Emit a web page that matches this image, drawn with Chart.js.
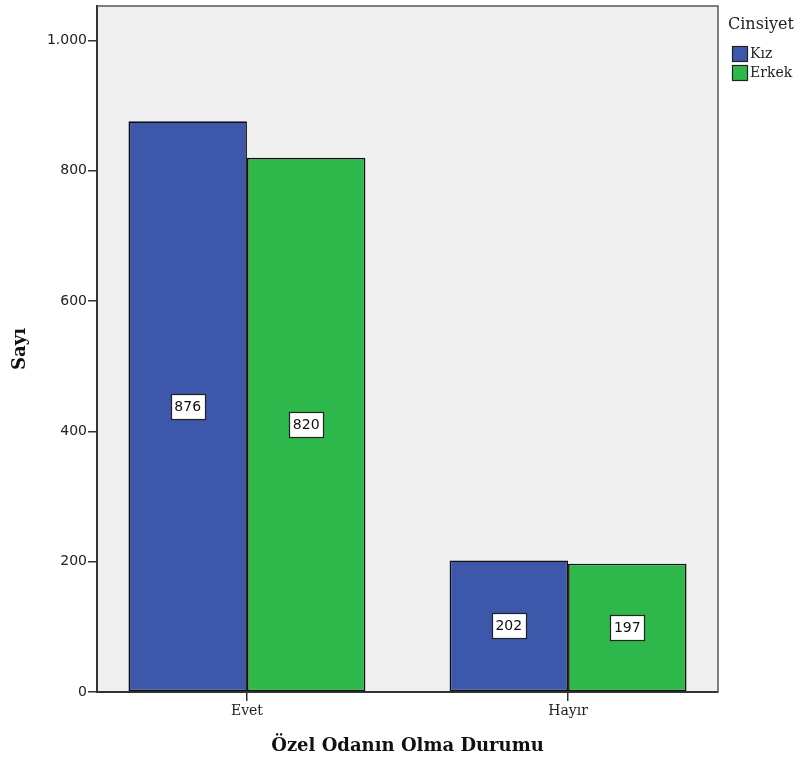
<!DOCTYPE html>
<html><head><meta charset="utf-8">
<script src="https://cdn.jsdelivr.net/npm/chart.js@4"></script>
<style>html,body{margin:0;padding:0;background:#fff}#wrap{width:800px;height:765px;position:relative}</style>
</head><body><div id="wrap"><canvas id="c" width="800" height="765"></canvas></div>
<script>
const categories = ['Evet', 'Hayır'];
const seriesNames = ['Kız', 'Erkek'];
const kizValues = [876, 202];
const erkekValues = [820, 197];
const yTicks = [0, 200, 400, 600, 800, 1000];
const seriesColors = ['#3d57aa', '#2eb84b'];
const legendTitle = 'Cinsiyet';
const xTitle = 'Özel Odanın Olma Durumu';
const yTitle = 'Sayı';

const seriesValues = [kizValues, erkekValues];

const bgPlugin = {
  id: 'bg',
  beforeDraw(chart) {
    const {ctx, chartArea: a} = chart;
    ctx.save();
    ctx.fillStyle = '#f0f0f0';
    ctx.fillRect(a.left, a.top, a.right - a.left, a.bottom - a.top);
    ctx.restore();
  },
  afterDraw(chart) {
    const {ctx, chartArea: a} = chart;
    ctx.save();
    ctx.strokeStyle = '#555';
    ctx.lineWidth = 1.5;
    ctx.beginPath();
    ctx.moveTo(a.left, a.top); ctx.lineTo(a.right, a.top); ctx.lineTo(a.right, a.bottom);
    ctx.stroke();
    ctx.restore();
  }
};

const labelPlugin = {
  id: 'vlabels',
  afterDatasetsDraw(chart) {
    const ctx = chart.ctx;
    ctx.save();
    ctx.font = '14px "DejaVu Sans"';
    ctx.textAlign = 'center';
    ctx.textBaseline = 'middle';
    chart.data.datasets.forEach((ds, di) => {
      const meta = chart.getDatasetMeta(di);
      meta.data.forEach((el, i) => {
        const p = el.getProps(['x', 'y', 'base'], true);
        const cx = p.x, cy = (p.y + p.base) / 2;
        const w = 34, h = 25;
        const bx = Math.round(cx - w / 2) + 0.5, by = Math.round(cy - h / 2) + 0.5;
        ctx.fillStyle = '#fff';
        ctx.fillRect(bx, by, w, h);
        ctx.strokeStyle = '#222';
        ctx.lineWidth = 1.2;
        ctx.strokeRect(bx, by, w, h);
        ctx.fillStyle = '#111';
        ctx.fillText(String(ds.data[i].y), cx, cy + 1);
      });
    });
    ctx.restore();
  }
};

const legendPlugin = {
  id: 'customLegend',
  afterDraw(chart) {
    const ctx = chart.ctx;
    ctx.save();
    ctx.fillStyle = '#222';
    ctx.textBaseline = 'middle';
    ctx.textAlign = 'left';
    ctx.font = '16px "DejaVu Serif"';
    ctx.fillText(legendTitle, 728, 25);
    ctx.font = '14px "DejaVu Serif"';
    chart.data.datasets.forEach((ds, i) => {
      const y = 46.5 + i * 19;
      ctx.fillStyle = ds.backgroundColor;
      ctx.fillRect(732.5, y, 15, 15);
      ctx.strokeStyle = '#222';
      ctx.lineWidth = 1.2;
      ctx.strokeRect(732.5, y, 15, 15);
      ctx.fillStyle = '#222';
      ctx.fillText(ds.label, 750, y + 8);
    });
    ctx.restore();
  }
};

new Chart(document.getElementById('c'), {
  type: 'bar',
  data: {
    datasets: seriesNames.map((name, s) => ({
      label: name,
      data: categories.map((c, i) => ({x: i, y: seriesValues[s][i]})),
      backgroundColor: seriesColors[s],
      borderColor: '#111',
      borderWidth: 1.6,
      borderSkipped: false,
      categoryPercentage: 0.738,
      barPercentage: 1.0
    }))
  },
  options: {
    responsive: false,
    animation: false,
    layout: {padding: {top: 6, right: 82, left: 0, bottom: 0}},
    plugins: {legend: {display: false}, tooltip: {enabled: false}},
    scales: {
      x: {
        type: 'linear',
        min: -0.467,
        max: 1.467,
        offset: false,
        afterBuildTicks: s => { s.ticks = categories.map((c, i) => ({value: i})); },
        afterFit: s => { s.height = 73; s.paddingLeft = 0; s.paddingRight = 0; },
        grid: {offset: false, drawOnChartArea: false, drawTicks: true, tickLength: 9, color: '#333', lineWidth: 1.5},
        border: {display: true, color: '#333', width: 2},
        ticks: {
          callback: v => categories[v],
          font: {family: '"DejaVu Serif"', size: 14},
          color: '#222',
          padding: 2,
          maxRotation: 0,
          autoSkip: false
        },
        title: {
          display: true, text: xTitle, color: '#111',
          font: {family: '"DejaVu Serif"', size: 18, weight: 'bold'},
          padding: {top: 0, bottom: 8}
        }
      },
      y: {
        min: 0,
        max: 1053,
        afterBuildTicks: s => { s.ticks = yTicks.map(v => ({value: v})); },
        afterFit: s => { s.width = 97; s.paddingTop = 0; s.paddingBottom = 0; },
        grid: {offset: false, drawOnChartArea: false, drawTicks: true, tickLength: 9, color: '#333', lineWidth: 1.5},
        border: {display: true, color: '#333', width: 2},
        ticks: {
          callback: v => v.toLocaleString('tr-TR'),
          font: {family: '"DejaVu Sans"', size: 14},
          color: '#222',
          padding: 1
        },
        title: {
          display: true, text: yTitle, color: '#111',
          font: {family: '"DejaVu Serif"', size: 18, weight: 'bold'},
          padding: {top: 10, bottom: 0}
        }
      }
    }
  },
  plugins: [bgPlugin, labelPlugin, legendPlugin]
});
</script></body></html>
